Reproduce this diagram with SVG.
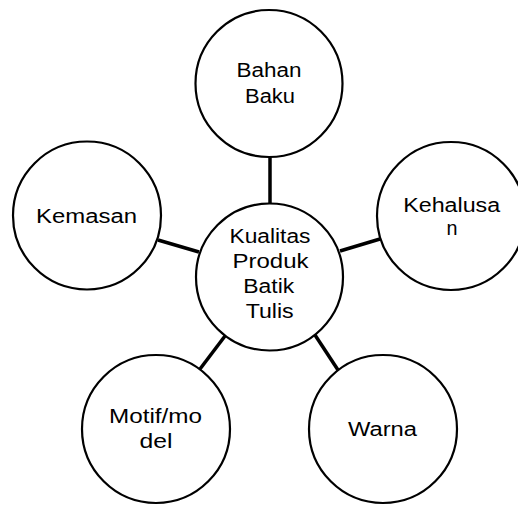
<svg xmlns="http://www.w3.org/2000/svg" width="518" height="505" viewBox="0 0 518 505">
<style>
.node circle{fill:#fff;stroke:#000;stroke-width:2.2}
.conn line{stroke:#000;stroke-width:3.5}
text{font-family:"Liberation Sans",Arial,sans-serif;font-size:20px;fill:#000;text-anchor:middle}
</style>
<rect width="518" height="505" fill="#fff"/>
<g id="connectors" class="conn">
<line x1="270" y1="156" x2="270" y2="204"/>
<line x1="158" y1="240" x2="199" y2="252"/>
<line x1="380" y1="239" x2="340" y2="251"/>
<line x1="200" y1="369" x2="225" y2="336"/>
<line x1="315" y1="335" x2="338" y2="370"/>
</g>
<g id="node-bahan-baku" class="node">
<circle cx="269" cy="83.5" r="73.5"/>
<text x="269" y="77" textLength="65" lengthAdjust="spacingAndGlyphs">Bahan</text>
<text x="270" y="103" textLength="50" lengthAdjust="spacingAndGlyphs">Baku</text>
</g>
<g id="node-kemasan" class="node">
<circle cx="87" cy="215.5" r="74"/>
<text x="86.5" y="222.5" textLength="101" lengthAdjust="spacingAndGlyphs">Kemasan</text>
</g>
<g id="node-kehalusan" class="node">
<circle cx="451" cy="216" r="74"/>
<text x="451.7" y="212" textLength="97" lengthAdjust="spacingAndGlyphs">Kehalusa</text>
<text x="452" y="235" textLength="11" lengthAdjust="spacingAndGlyphs">n</text>
</g>
<g id="node-center" class="node">
<circle cx="269.5" cy="277" r="73.5"/>
<text x="270" y="243.3" textLength="81" lengthAdjust="spacingAndGlyphs">Kualitas</text>
<text x="270.5" y="268.3" textLength="76" lengthAdjust="spacingAndGlyphs">Produk</text>
<text x="268.8" y="292.7" textLength="51" lengthAdjust="spacingAndGlyphs">Batik</text>
<text x="269.7" y="318.3" textLength="48" lengthAdjust="spacingAndGlyphs">Tulis</text>
</g>
<g id="node-motif" class="node">
<circle cx="156" cy="429" r="74"/>
<text x="155.5" y="422.7" textLength="93" lengthAdjust="spacingAndGlyphs">Motif/mo</text>
<text x="156" y="448.3" textLength="33" lengthAdjust="spacingAndGlyphs">del</text>
</g>
<g id="node-warna" class="node">
<circle cx="383" cy="429" r="74"/>
<text x="382.5" y="436" textLength="69" lengthAdjust="spacingAndGlyphs">Warna</text>
</g>
</svg>
